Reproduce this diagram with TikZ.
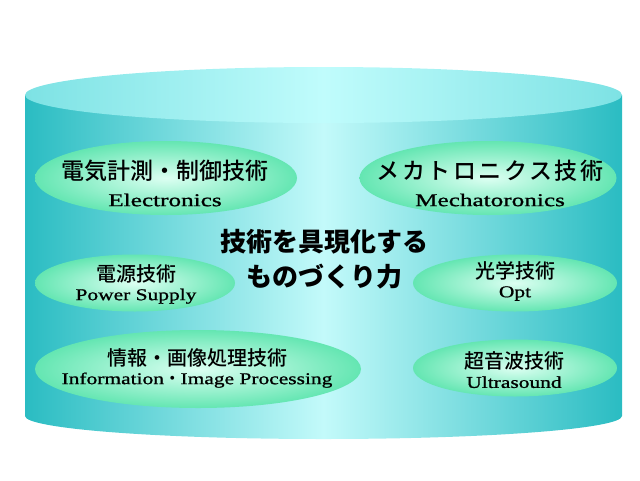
\documentclass[tikz,border=0pt]{standalone}
\usepackage{fontspec}
\setmainfont{Liberation Serif}
\newfontfamily\jpfont{Noto Sans CJK JP Medium}
\newfontfamily\jpwide[LetterSpace=11]{Noto Sans CJK JP Medium}
\newfontfamily\enbig[FakeStretch=1.4,FakeBold=1]{Liberation Serif}
\newfontfamily\ensmall[FakeStretch=1.3,FakeBold=1]{Liberation Serif}
\usetikzlibrary{shapes.geometric}
\definecolor{sideedge}{RGB}{42,188,194}
\definecolor{sidemid}{RGB}{195,250,250}
\definecolor{capedge}{RGB}{125,226,228}
\definecolor{capmid}{RGB}{192,252,252}
\definecolor{mintout}{RGB}{100,230,178}
\definecolor{mintin}{RGB}{220,255,242}
\tikzstyle{bubble}=[ellipse,inner sep=0pt,shading=radial,inner color=mintin,outer color=mintout]
\tikzstyle{biglabel}=[align=center,inner sep=0pt,font=\fontsize{23}{27}\selectfont]
\tikzstyle{smalllabel}=[align=center,inner sep=0pt,font=\fontsize{20}{19}\selectfont]

\begin{document}
\begin{tikzpicture}[x=1pt,y=-1pt]
  \useasboundingbox (0,0) rectangle (640,480);
  % cylinder
  \path[left color=sideedge,right color=sideedge,middle color=sidemid]
    (25,95) -- (25,416) arc[start angle=180,end angle=360,x radius=298.5pt,y radius=23pt] -- (622,95) -- cycle;
  \path[left color=capedge,right color=capedge,middle color=capmid]
    (323.5,95) ellipse[x radius=298.5pt,y radius=28pt];
  % bubbles
  \node[bubble,minimum width=262pt,minimum height=74pt] (elec)  at (166,178) {};
  \node[bubble,minimum width=257pt,minimum height=74pt] (mech)  at (488,178) {};
  \node[bubble,minimum width=200pt,minimum height=57pt] (power) at (135,283) {};
  \node[bubble,minimum width=326pt,minimum height=78pt] (info)  at (198,369) {};
  \node[bubble,minimum width=204pt,minimum height=57pt] (opt)   at (515,283) {};
  \node[bubble,minimum width=204pt,minimum height=57pt] (ultra) at (515,368) {};
  % labels
  \node[biglabel] (electext) at (165,183) {\jpfont 電気計測・制御技術\\ \fontsize{18}{18}\enbig Electronics};
  \node[biglabel] (mechtext) at (490,183) {\jpwide メカトロニクス技術\\ \fontsize{18}{18}\enbig Mechatoronics};
  \node[smalllabel] (powertext) at (136,284) {\jpfont 電源技術\\ \fontsize{16.5}{16.5}\ensmall Power Supply};
  \node[smalllabel] (infotext)  at (197,368) {\jpfont 情報・画像処理技術\\ \fontsize{16.5}{16.5}\ensmall Information{\jpfont ・}Image Processing};
  \node[smalllabel] (opttext)   at (515,281) {\jpfont 光学技術\\ \fontsize{16.5}{16.5}\ensmall Opt};
  \node[smalllabel] (ultratext) at (514,370) {\jpfont 超音波技術\\ \fontsize{16.5}{16.5}\ensmall Ultrasound};
  % centre
  \node[align=center,inner sep=0pt,font=\fontsize{26}{35}\selectfont\jpfont\bfseries] (centre) at (324,259)
    {技術を具現化する\\ものづくり力};
\end{tikzpicture}
\end{document}
